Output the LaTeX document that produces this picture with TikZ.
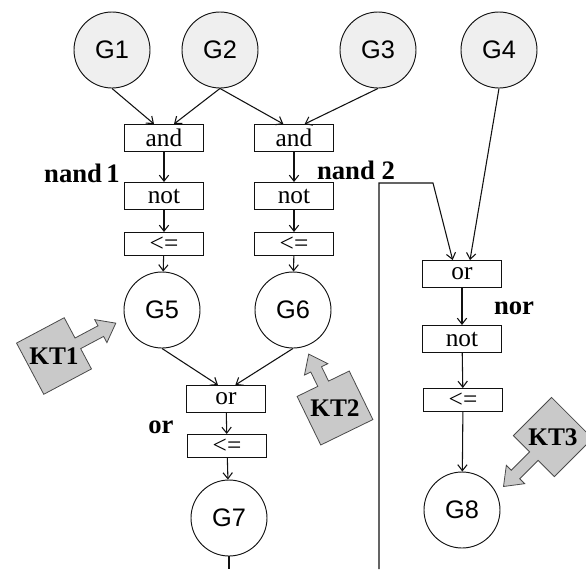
\documentclass[tikz,border=0pt]{standalone}
\usepackage{fontspec}
\setmainfont{Liberation Serif}
\newfontfamily\gfont{Liberation Sans}
\usetikzlibrary{arrows.meta,positioning,calc}
\definecolor{ink}{HTML}{111111}
\definecolor{inputbg}{HTML}{EFEFEF}
\definecolor{ktfill}{HTML}{C9C9C9}
\definecolor{ktline}{HTML}{4A4A4A}
\tikzset{
  place/.style={circle,draw=ink,line width=0.7pt,minimum size=57pt,
                inner sep=0pt,font=\gfont\fontsize{19}{19}\selectfont},
  inplace/.style={place,fill=inputbg},
  gate/.style={draw=ink,line width=1pt,minimum width=59pt,
               minimum height=20pt,inner sep=0pt,
               font=\fontsize{19}{19}\selectfont},
  assign/.style={gate,minimum height=17pt},
  netlabel/.style={font=\fontsize{20}{20}\selectfont\bfseries},
  wire/.style={line width=0.8pt,draw=ink},
  arr/.style={wire,-{Straight Barb[length=4.5pt,width=7pt]}},
  ktshape/.style={fill=ktfill,draw=ktline,line width=0.6pt},
  kttext/.style={font=\fontsize{19}{19}\selectfont\bfseries,inner sep=0pt}
}
% callout: name, centre, direction, shaft length, label
\newcommand{\ktarrow}[5]{%
  \begin{scope}[shift={#2},rotate=#3]
    \draw[ktshape] (-27,-29) -- (27,-29) -- (27,-6) -- (27+#4,-6)
      -- (27+#4,-13) -- (44+#4,0) -- (27+#4,13) -- (27+#4,6)
      -- (27,6) -- (27,29) -- (-27,29) -- cycle;
  \end{scope}
  \node[kttext] (#1) at #2 {#5};
}

\begin{document}
\begin{tikzpicture}[x=0.75pt,y=-0.75pt]
  \path[use as bounding box,fill=white] (0,0) rectangle (586,569);

  % input places
  \node[inplace] (G1) at (112,50) {G1};
  \node[inplace] (G2) at (220,50) {G2};
  \node[inplace] (G3) at (378,50) {G3};
  \node[inplace] (G4) at (499,50) {G4};

  % nand 1
  \node[gate]   (and1) at (164,138) {and};
  \node[gate]   (not1) at (164,196) {not};
  \node[assign] (le1)  at (164,244) {<=};
  \node[place]  (G5)   at (162,310) {G5};
  % nand 2
  \node[gate]   (and2) at (294,138) {and};
  \node[gate]   (not2) at (294,196) {not};
  \node[assign] (le2)  at (294,244) {<=};
  \node[place]  (G6)   at (293,310) {G6};
  % or
  \node[gate]   (or1)  at (226,399) {or};
  \node[assign] (le3)  at (227,446) {<=};
  \node[place]  (G7)   at (229,518) {G7};
  % nor
  \node[gate]   (or2)  at (462,274) {or};
  \node[gate]   (not3) at (462,339) {not};
  \node[assign] (le4)  at (463,400) {<=};
  \node[place]  (G8)   at (462,510) {G8};

  \node[netlabel] (lnand1) at (82,173)  {nand\,1};
  \node[netlabel] (lnand2) at (356,170) {nand 2};
  \node[netlabel] (lor)    at (161,427) {or};
  \node[netlabel] (lnor)   at (514,308) {nor};

  \coordinate (g7out) at (229,569);
  \coordinate (n2bot) at (379,569);
  \coordinate (n2top) at (379,183);
  \coordinate (n2knee) at (433,183);

  \draw[arr] (G1.south) -- ([xshift=-7.5pt]and1.north);
  \draw[arr] (G2.south) -- ([xshift=7.5pt]and1.north);
  \draw[arr] (G2.south) -- ([xshift=-8pt]and2.north);
  \draw[arr] (G3.south) -- ([xshift=8pt]and2.north);
  \draw[arr] (and1) -- (not1);
  \draw[arr] (not1) -- (le1);
  \draw[arr] (le1) -- (G5);
  \draw[arr] (and2) -- (not2);
  \draw[arr] (not2) -- (le2);
  \draw[arr] (le2) -- (G6);
  \draw[arr] (G5.south) -- ([xshift=-6pt]or1.north);
  \draw[arr] (G6.south) -- ([xshift=7pt]or1.north);
  \draw[arr] (or1) -- (le3);
  \draw[arr] (le3) -- (G7);
  \draw[wire] (G7.south) -- (g7out);
  \draw[arr] (n2bot) -- (n2top) -- (n2knee) -- ([xshift=-7pt]or2.north);
  \draw[arr] (G4.south) -- ([xshift=6pt]or2.north);
  \draw[arr] (or2) -- (not3);
  \draw[arr] (not3) -- (le4);
  \draw[arr] (le4) -- (G8);

  \ktarrow{KT1}{(54,356)}{28}{26}{KT1}
  \ktarrow{KT2}{(335,408)}{116}{16}{KT2}
  \ktarrow{KT3}{(553,437)}{225}{26}{KT3}
\end{tikzpicture}
\end{document}
